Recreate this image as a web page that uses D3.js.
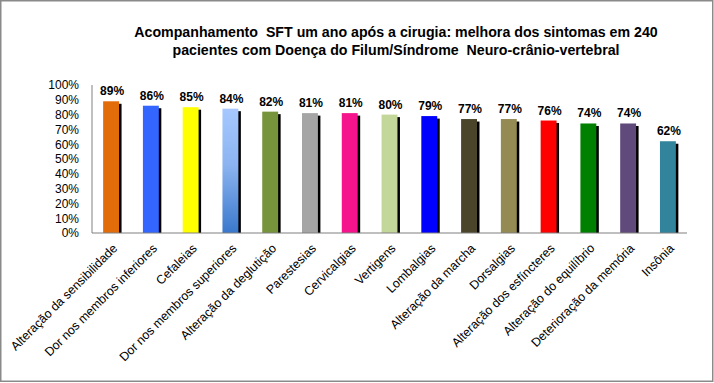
<!DOCTYPE html>
<html><head><meta charset="utf-8">
<script src="https://cdn.jsdelivr.net/npm/d3@7"></script>
<style>body{margin:0;background:#fff}svg{display:block}</style>
</head><body>
<svg id="c" width="714" height="383"></svg>
<script>
const categories = ["Alteração da sensibilidade","Dor nos membros inferiores","Cefaleias","Dor nos membros superiores","Alteração da deglutição","Parestesias","Cervicalgias","Vertigens","Lombalgias","Alteração da marcha","Dorsalgias","Alteração dos esfíncteres","Alteração do equilíbrio","Deterioração da memória","Insônia"];
const values = [0.89,0.86,0.85,0.84,0.82,0.81,0.81,0.80,0.79,0.77,0.77,0.76,0.74,0.74,0.62];
const colors = ["#e36c0a","#3366ff","#ffff00","url(#grad4)","#77933c","#a5a5a5","#f5148c","#c4d79b","#0000ff","#4a452a","#948a54","#ff0000","#008000","#604a7b","#31849b"];
const yTicks = [0,0.1,0.2,0.3,0.4,0.5,0.6,0.7,0.8,0.9,1.0];
const titleLines = ["Acompanhamento  SFT um ano após a cirugia: melhora dos sintomas em 240","pacientes com Doença do Filum/Síndrome  Neuro-crânio-vertebral"];

const svg = d3.select("#c");
const defs = svg.append("defs");
const g4 = defs.append("linearGradient").attr("id","grad4").attr("x1",0).attr("y1",0).attr("x2",0).attr("y2",1);
g4.append("stop").attr("offset","0%").attr("stop-color","#a6c8ff");
g4.append("stop").attr("offset","45%").attr("stop-color","#8cb4f0");
g4.append("stop").attr("offset","100%").attr("stop-color","#3a78cc");

svg.append("rect").attr("x",0.75).attr("y",0.75).attr("width",712).attr("height",380.5)
  .attr("fill","#fff").attr("stroke","#8a8a8a").attr("stroke-width",1.5);

const x = d3.scaleBand().domain(categories).range([92,687]).paddingInner(0.6).paddingOuter(0.28);
const y = d3.scaleLinear().domain([0,1]).range([233,85]);

// title
const t = svg.append("text").attr("text-anchor","middle")
  .attr("font-family","Liberation Sans, Arial, sans-serif").attr("font-weight","bold").attr("font-size","14.2px").attr("fill","#000");
titleLines.forEach((l,i)=>t.append("tspan").attr("x",396).attr("y",37+i*18).attr("xml:space","preserve").text(l));

// y axis labels
svg.append("g").selectAll("text").data(yTicks).join("text")
  .attr("x",79).attr("y",d=>y(d)).attr("dy","0.36em").attr("text-anchor","end")
  .attr("font-family","Liberation Sans, Arial, sans-serif").attr("font-size","12px")
  .text(d=>d3.format(".0%")(d));

// shadows
svg.append("g").selectAll("rect").data(values).join("rect")
  .attr("x",(d,i)=>x(categories[i])+2.5).attr("y",d=>y(d)+2.5)
  .attr("width",x.bandwidth()).attr("height",d=>y(0)-y(d)-2.5).attr("fill","#000");
// bars
svg.append("g").selectAll("rect").data(values).join("rect")
  .attr("x",(d,i)=>x(categories[i])).attr("y",d=>y(d))
  .attr("width",x.bandwidth()).attr("height",d=>y(0)-y(d)).attr("fill",(d,i)=>colors[i]);

// axes lines
svg.append("line").attr("x1",92).attr("x2",92).attr("y1",y(1)).attr("y2",y(0)).attr("stroke","#808080").attr("stroke-width",1);
svg.append("line").attr("x1",92).attr("x2",687).attr("y1",y(0)).attr("y2",y(0)).attr("stroke","#808080").attr("stroke-width",1.2);

// value labels
svg.append("g").selectAll("text").data(values).join("text")
  .attr("x",(d,i)=>x(categories[i])+x.bandwidth()/2+1).attr("y",d=>y(d)-6)
  .attr("text-anchor","middle").attr("font-family","Liberation Sans, Arial, sans-serif")
  .attr("font-weight","bold").attr("font-size","12px")
  .text(d=>d3.format(".0%")(d));

// x labels
svg.append("g").selectAll("text").data(categories).join("text")
  .attr("transform",d=>`translate(${x(d)+x.bandwidth()/2+7},${y(0)+16}) rotate(-45)`)
  .attr("text-anchor","end").attr("font-family","Liberation Sans, Arial, sans-serif").attr("font-size","12.4px")
  .text(d=>d);
</script>
</body></html>
